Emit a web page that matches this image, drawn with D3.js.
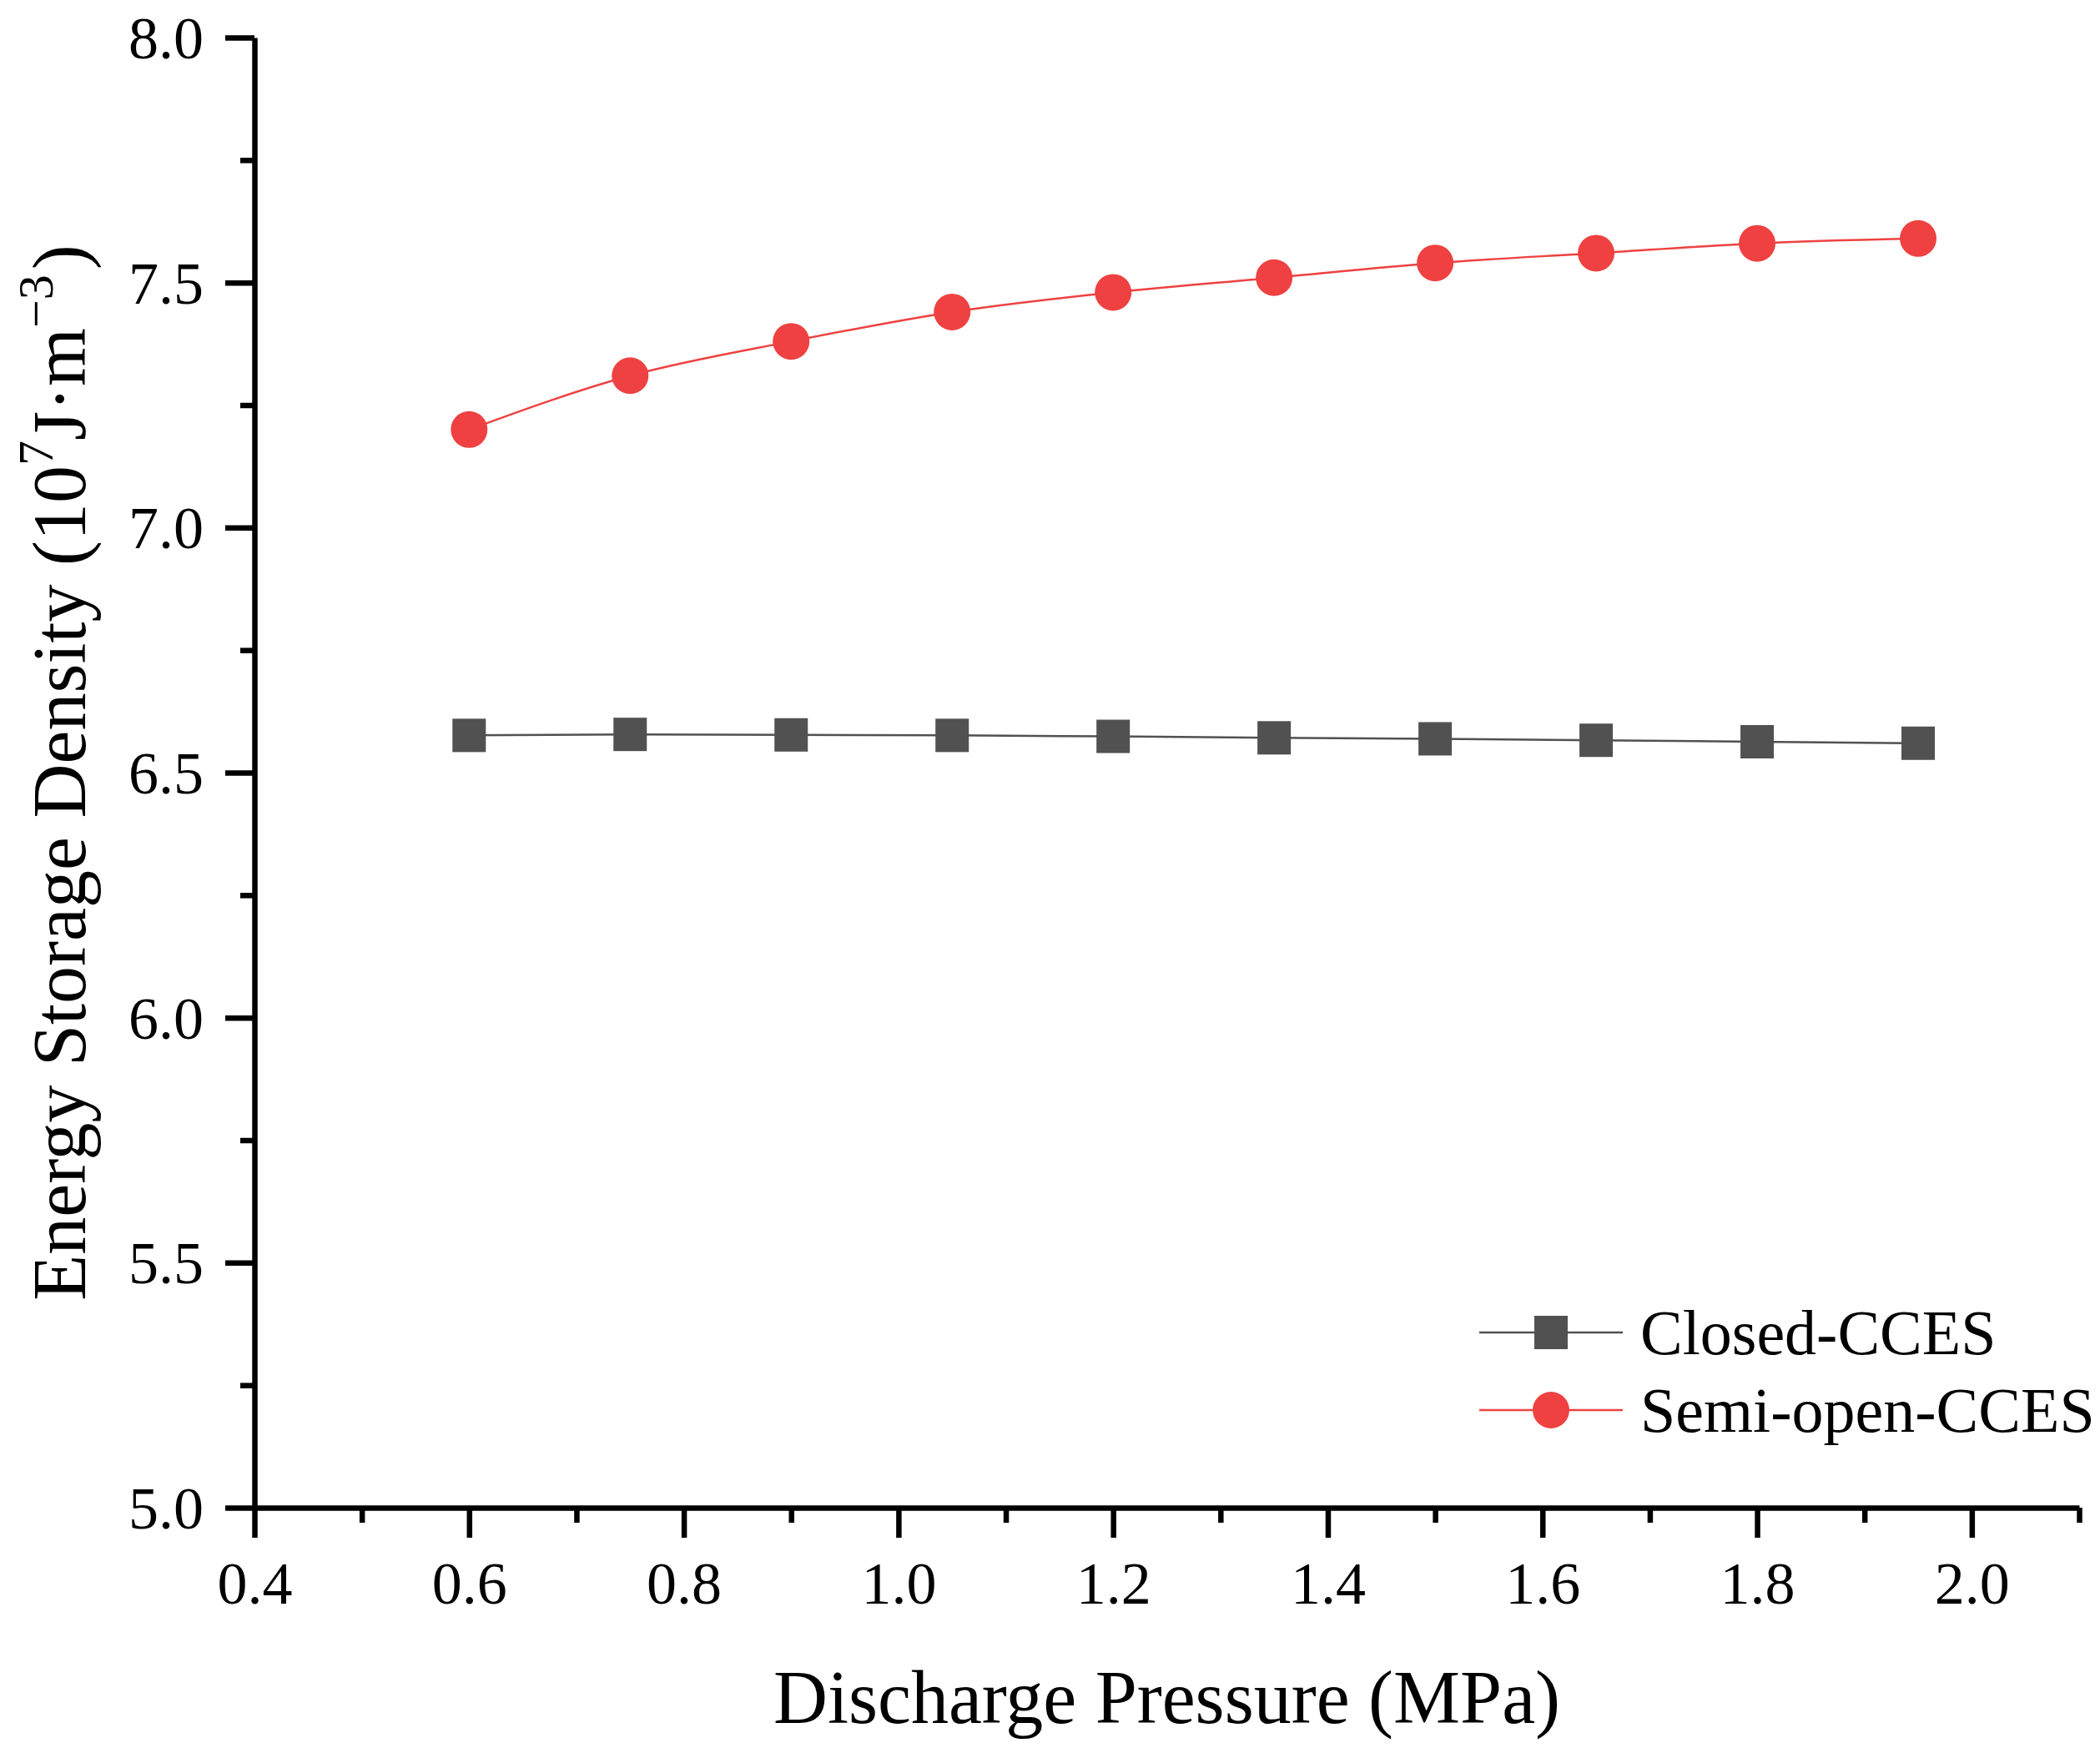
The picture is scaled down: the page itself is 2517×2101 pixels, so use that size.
<!DOCTYPE html>
<meta charset="utf-8">
<style>
  body { margin: 0; background: #fff; }
  text { font-family: "Liberation Serif", "Times New Roman", serif; fill: #000; }
</style>

<!-- Load d3.js -->
<script src="https://d3js.org/d3.v7.min.js"></script>

<div id="chart"></div>
<script>

    // data
    const pressure = [0.6, 0.75, 0.9, 1.05, 1.2, 1.35, 1.5, 1.65, 1.8, 1.95];
    const closedCCES = [6.576, 6.578, 6.577, 6.576, 6.574, 6.571, 6.569, 6.566, 6.563, 6.560];
    const semiOpenCCES = [7.20, 7.31, 7.38, 7.44, 7.48, 7.51, 7.54, 7.56, 7.58, 7.59];
    const seriesNames = ["Closed-CCES", "Semi-open-CCES"];

    const xTicks = [0.4, 0.6, 0.8, 1.0, 1.2, 1.4, 1.6, 1.8, 2.0];
    const xMinor = [0.5, 0.7, 0.9, 1.1, 1.3, 1.5, 1.7, 1.9, 2.1];
    const yTicks = [5.0, 5.5, 6.0, 6.5, 7.0, 7.5, 8.0];
    const yMinor = [5.25, 5.75, 6.25, 6.75, 7.25, 7.75];

    const W = 2517, H = 2101;
    const margin = {top: 45, right: 25, bottom: 294, left: 305};

    const svg = d3.select("#chart")
      .append("svg")
        .attr("width", W)
        .attr("height", H);

    svg.append("rect").attr("width", W).attr("height", H).attr("fill", "#fff");

    const x = d3.scaleLinear()
      .domain([0.4, 2.1])
      .range([margin.left, W - margin.right]);

    const y = d3.scaleLinear()
      .domain([5.0, 8.0])
      .range([H - margin.bottom, margin.top]);

    const axisW = 6.5;

    // X axis: minor ticks first, then majors with labels
    svg.append("g")
      .attr("transform", `translate(0,${y(5)})`)
      .call(d3.axisBottom(x).tickValues(xMinor).tickSize(18).tickSizeOuter(0).tickFormat(""))
      .call(g => g.select(".domain").remove())
      .call(g => g.selectAll("line").attr("stroke", "#000").attr("stroke-width", axisW));

    const gx = svg.append("g")
      .attr("transform", `translate(0,${y(5)})`)
      .call(d3.axisBottom(x).tickValues(xTicks).tickSize(36).tickSizeOuter(0)
        .tickFormat(d3.format(".1f")));
    gx.select(".domain").attr("stroke", "#000").attr("stroke-width", axisW);
    gx.selectAll("line").attr("stroke", "#000").attr("stroke-width", axisW);
    gx.selectAll("text")
      .attr("y", 115).attr("dy", 0)
      .attr("font-size", 72)
      .attr("font-family", "Liberation Serif, Times New Roman, serif");

    // Y axis
    svg.append("g")
      .attr("transform", `translate(${x(0.4)},0)`)
      .call(d3.axisLeft(y).tickValues(yMinor).tickSize(17).tickSizeOuter(0).tickFormat(""))
      .call(g => g.select(".domain").remove())
      .call(g => g.selectAll("line").attr("stroke", "#000").attr("stroke-width", axisW));

    const gy = svg.append("g")
      .attr("transform", `translate(${x(0.4)},0)`)
      .call(d3.axisLeft(y).tickValues(yTicks).tickSize(35).tickSizeOuter(0).tickPadding(26)
        .tickFormat(d3.format(".1f")));
    gy.select(".domain").attr("stroke", "#000").attr("stroke-width", axisW);
    gy.selectAll("line").attr("stroke", "#000").attr("stroke-width", axisW);
    gy.selectAll("text")
      .attr("dy", "0.34em")
      .attr("font-size", 72)
      .attr("font-family", "Liberation Serif, Times New Roman, serif");

    // axis titles
    svg.append("text")
      .attr("x", (x(0.4) + x(2.1)) / 2)
      .attr("y", 2065)
      .attr("text-anchor", "middle")
      .attr("font-size", 90)
      .text("Discharge Pressure (MPa)");

    const yt = svg.append("text")
      .attr("transform", `translate(102,${(y(5) + y(8)) / 2}) rotate(-90)`)
      .attr("text-anchor", "middle")
      .attr("font-size", 90);
    yt.append("tspan").text("Energy Storage Density (10");
    yt.append("tspan").attr("font-size", 60).attr("dy", -39).text("7");
    yt.append("tspan").attr("dy", 39).text("J\u00B7m");
    yt.append("tspan").attr("font-size", 60).attr("dy", -39).text("\u22123");
    yt.append("tspan").attr("dy", 39).attr("dx", 6).text(")");

    const grey = "#515151", red = "#ef4141";

    const closedData = pressure.map((p, i) => ({x: p, y: closedCCES[i]}));
    const semiData = pressure.map((p, i) => ({x: p, y: semiOpenCCES[i]}));

    // lines
    svg.append("path")
      .datum(closedData)
      .attr("fill", "none")
      .attr("stroke", grey)
      .attr("stroke-width", 2.5)
      .attr("d", d3.line().x(d => x(d.x)).y(d => y(d.y)));

    svg.append("path")
      .datum(semiData)
      .attr("fill", "none")
      .attr("stroke", red)
      .attr("stroke-width", 2.5)
      .attr("d", d3.line().curve(d3.curveMonotoneX).x(d => x(d.x)).y(d => y(d.y)));

    // markers
    const sq = 40, r = 22;
    svg.append("g")
      .selectAll("rect")
      .data(closedData)
      .join("rect")
        .attr("x", d => x(d.x) - sq / 2)
        .attr("y", d => y(d.y) - sq / 2)
        .attr("width", sq)
        .attr("height", sq)
        .attr("fill", grey);

    svg.append("g")
      .selectAll("circle")
      .data(semiData)
      .join("circle")
        .attr("cx", d => x(d.x))
        .attr("cy", d => y(d.y))
        .attr("r", r)
        .attr("fill", red);

    // legend
    const legend = svg.append("g").attr("transform", "translate(1773,1597)");
    const rowH = 93;
    seriesNames.forEach((name, i) => {
      const g = legend.append("g").attr("transform", `translate(0,${i * rowH})`);
      const c = i === 0 ? grey : red;
      g.append("line").attr("x1", 0).attr("x2", 172).attr("y1", 0).attr("y2", 0)
        .attr("stroke", c).attr("stroke-width", 2.5);
      if (i === 0) {
        g.append("rect").attr("x", 86 - sq / 2).attr("y", -sq / 2)
          .attr("width", sq).attr("height", sq).attr("fill", c);
      } else {
        g.append("circle").attr("cx", 86).attr("cy", 0).attr("r", r).attr("fill", c);
      }
      g.append("text")
        .attr("x", 193)
        .attr("y", 26)
        .attr("font-size", 76)
        .text(name);
    });

</script>
